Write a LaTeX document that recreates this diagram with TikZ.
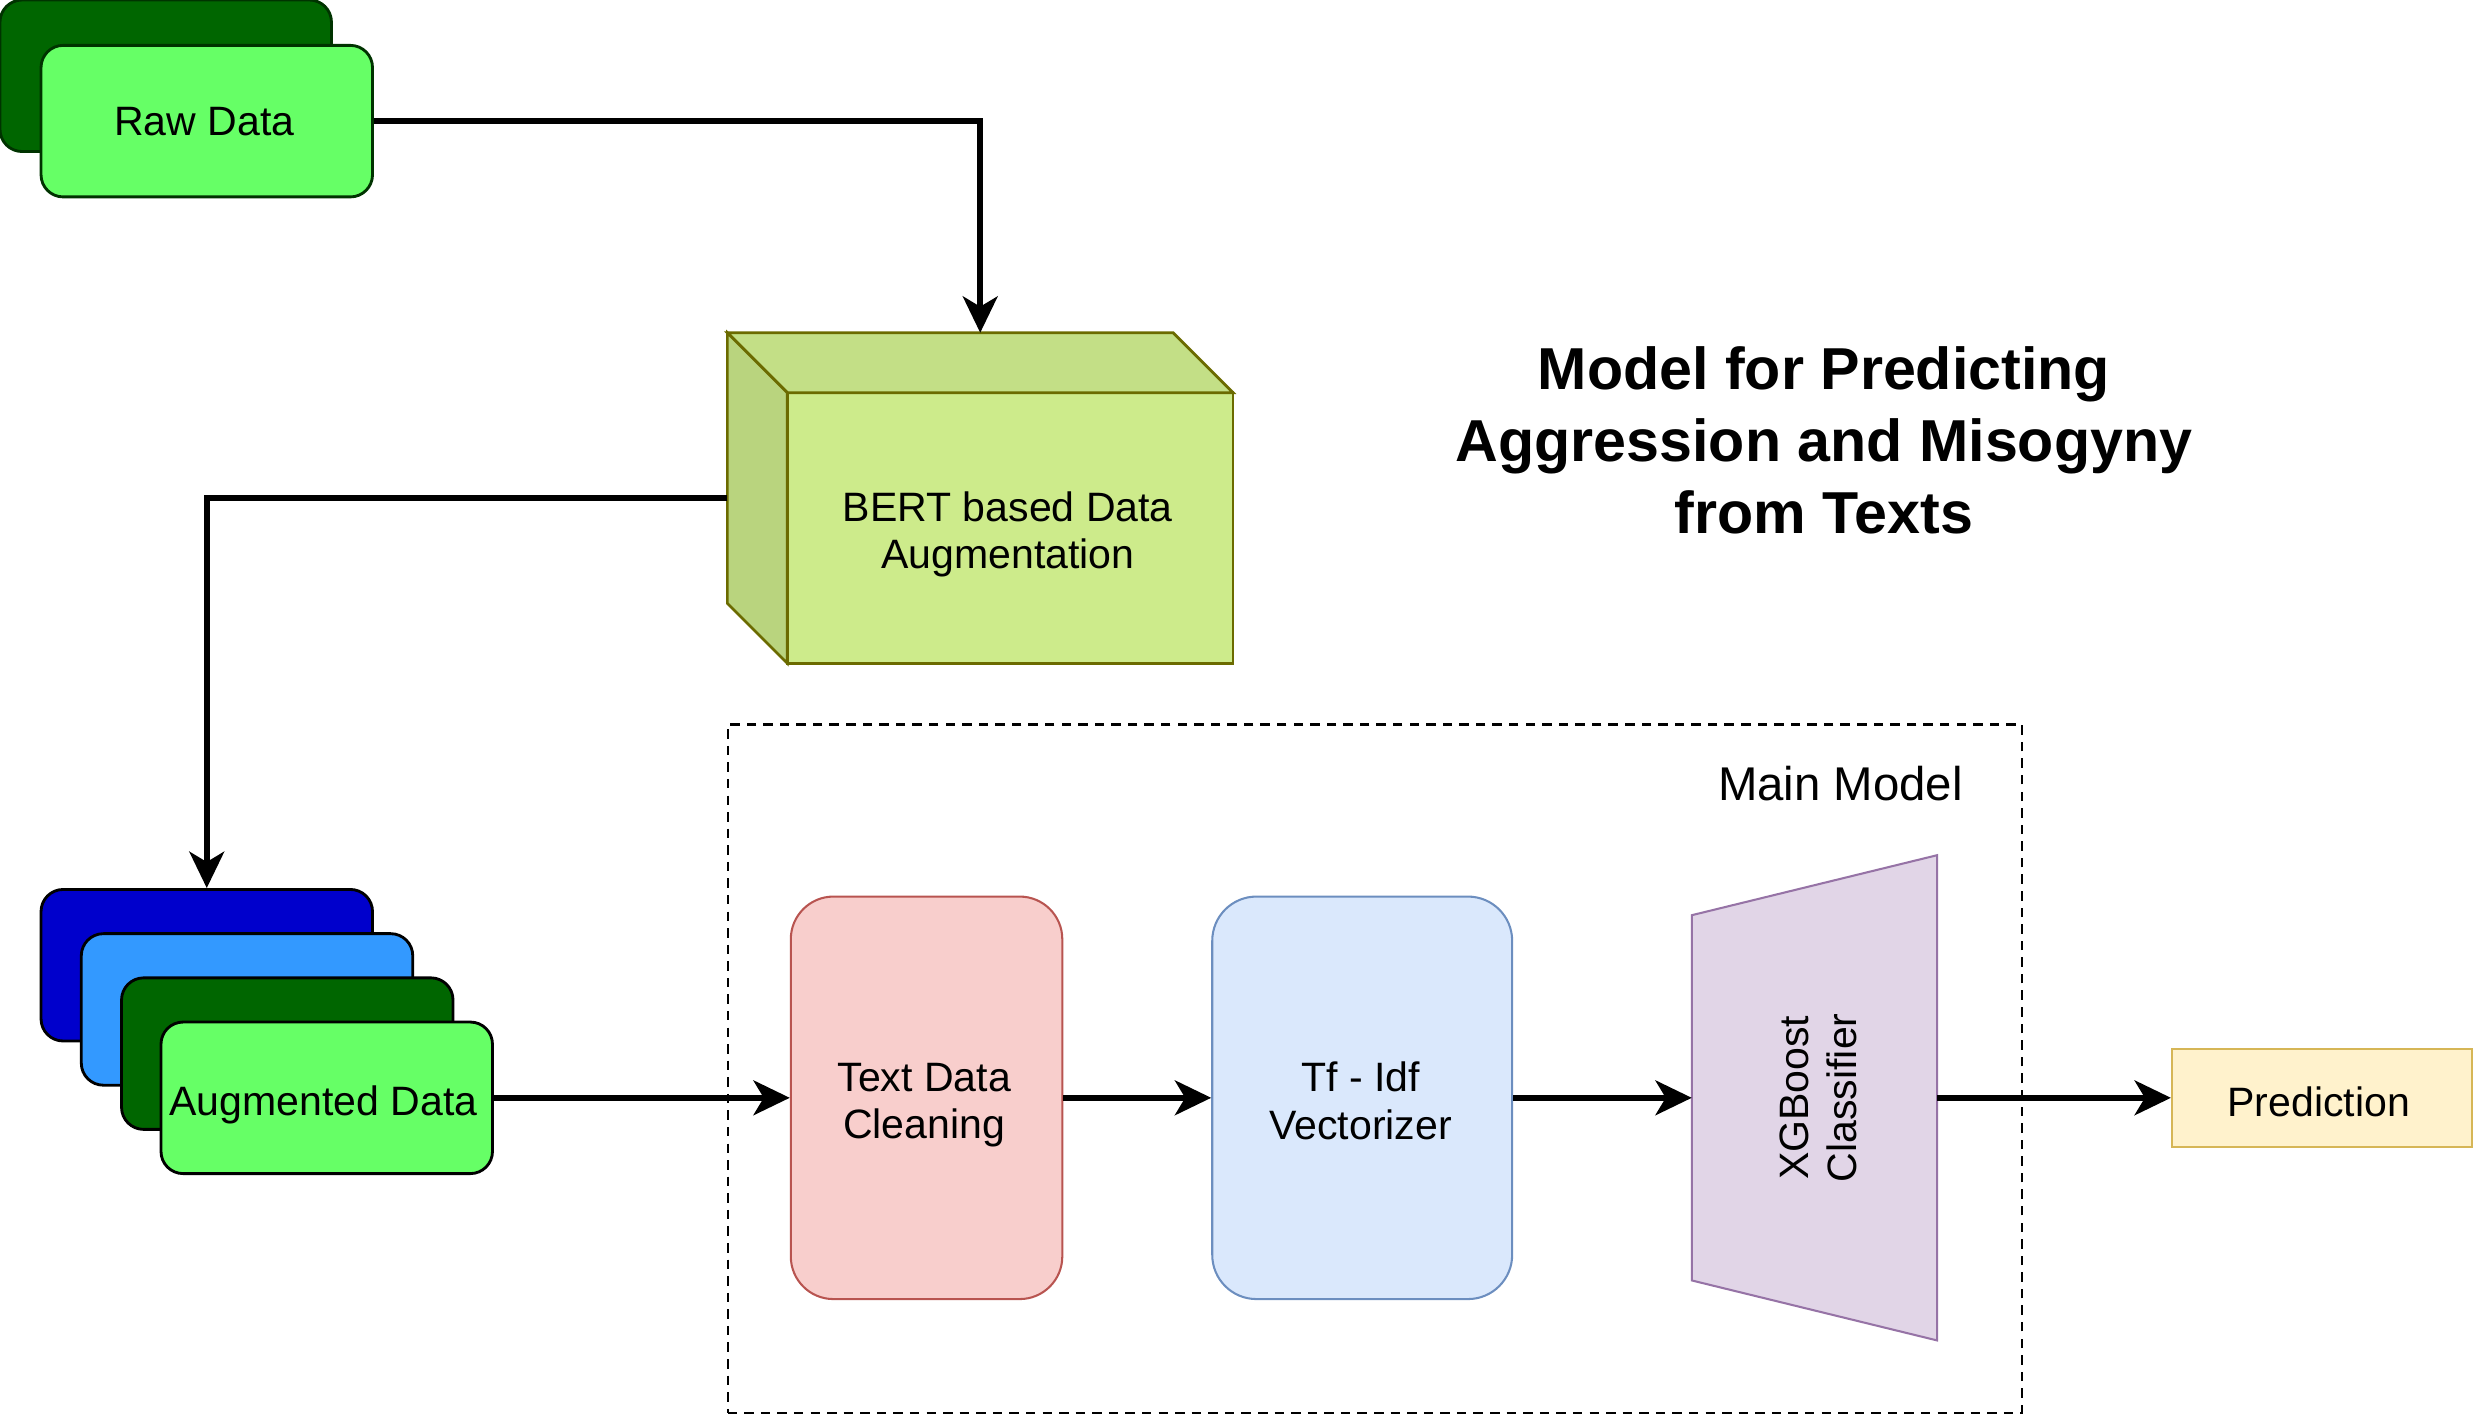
\documentclass[tikz,border=0pt]{standalone}
\usepackage{fontspec}
\setmainfont{Liberation Sans}
\usetikzlibrary{arrows.meta}
\definecolor{rawdark}{HTML}{006600}
\definecolor{rawlight}{HTML}{66FF66}
\definecolor{rawstroke}{HTML}{003300}
\definecolor{augblue}{HTML}{0000CC}
\definecolor{auglblue}{HTML}{3399FF}
\definecolor{cubefront}{HTML}{CDEB8B}
\definecolor{cubetop}{HTML}{C3DF86}
\definecolor{cubeleft}{HTML}{B9D47E}
\definecolor{cubestroke}{HTML}{6B6B00}
\definecolor{cleanfill}{HTML}{F8CECC}
\definecolor{cleanstroke}{HTML}{B85450}
\definecolor{tffill}{HTML}{DAE8FC}
\definecolor{tfstroke}{HTML}{6C8EBF}
\definecolor{xgbfill}{HTML}{E1D5E7}
\definecolor{xgbstroke}{HTML}{9673A6}
\definecolor{predfill}{HTML}{FFF2CC}
\definecolor{predstroke}{HTML}{D6B656}
\begin{document}
\begin{tikzpicture}[x=1pt,y=-1pt,
  databox/.style={rectangle, inner sep=0pt, minimum width=210pt, minimum height=96pt, rounded corners=14pt, line width=1.8pt},
  procbox/.style={rectangle, inner sep=0pt, minimum height=255pt, rounded corners=27pt, line width=1.3pt},
  txt/.style={font=\fontsize{26}{30}\selectfont, align=center, inner sep=0pt},
  arr/.style={line width=3.6pt, -{Stealth[length=23pt,width=22pt,inset=6.5pt]}},
  cubeface/.style={draw=cubestroke, line width=1.7pt, line join=miter}
]
\useasboundingbox (0,0) rectangle (1568,897);

% main model frame
\node[draw, line width=1.4pt, dash pattern=on 6pt off 4.5pt, inner sep=0pt,
      minimum width=820pt, minimum height=436pt] (main) at (871,677) {};
\node[font=\fontsize{30}{36}\selectfont, inner sep=0pt] (main-t) at (1166,496.3) {Main Model};

% title
\node[font=\fontsize{37.5}{45.5}\selectfont\bfseries, align=center, inner sep=0pt] (title)
  at (1155.5,279.05) {Model for Predicting\\Aggression and Misogyny\\from Texts};

% raw data stack
\node[databox, draw=rawstroke, fill=rawdark] (raw0) at (105,48) {};
\node[databox, draw=rawstroke, fill=rawlight] (raw) at (131,76.75) {};
\node[txt] (raw-t) at (129.5,77.3) {Raw Data};

% BERT cube
\node[rectangle, inner sep=0pt, minimum width=320pt, minimum height=209pt] (bert) at (621,315.5) {};
\path[cubeface, fill=cubefront] ([xshift=38pt,yshift=-38pt]bert.north west) rectangle (bert.south east);
\path[cubeface, fill=cubetop] (bert.north west) -- ([xshift=-38pt]bert.north east)
  -- ([yshift=-38pt]bert.north east) -- ([xshift=38pt,yshift=-38pt]bert.north west) -- cycle;
\path[cubeface, fill=cubeleft] (bert.north west) -- ([xshift=38pt,yshift=-38pt]bert.north west)
  -- ([xshift=38pt]bert.south west) -- ([yshift=38pt]bert.south west) -- cycle;
\node[txt] (bert-t) at (638.5,338.45) {BERT based Data\\Augmentation};

% augmented data stack
\node[databox, draw=black, fill=augblue] (aug1) at (131,611.5) {};
\node[databox, draw=black, fill=auglblue] (aug2) at (156.5,639.5) {};
\node[databox, draw=black, fill=rawdark] (aug3) at (182,667.5) {};
\node[databox, draw=black, fill=rawlight] (aug) at (207,695.5) {};
\node[txt] (aug-t) at (205,700) {Augmented Data};

% processing boxes
\node[procbox, draw=cleanstroke, fill=cleanfill, minimum width=172pt] (clean) at (587,695.5) {};
\node[txt] (clean-t) at (585.5,700.25) {Text Data\\Cleaning};
\node[procbox, draw=tfstroke, fill=tffill, minimum width=190pt, rounded corners=28pt] (tf) at (863,695.5) {};
\node[txt] (tf-t) at (862,697.5) {Tf - Idf\\Vectorizer};

% XGBoost trapezoid
\node[rectangle, inner sep=0pt, minimum width=155pt, minimum height=307pt] (xgb) at (1149.5,695.5) {};
\path[draw=xgbstroke, fill=xgbfill, line width=1.3pt, line join=miter]
  ([yshift=-38pt]xgb.north west) -- (xgb.north east) -- (xgb.south east)
  -- ([yshift=38pt]xgb.south west) -- cycle;
\node[txt, rotate=90] (xgb-t) at (1152,695.5) {XGBoost\\Classifier};

% prediction
\node[rectangle, inner sep=0pt, draw=predstroke, fill=predfill, line width=1.3pt,
      minimum width=190pt, minimum height=62pt] (pred) at (1471,695.5) {};
\node[txt] (pred-t) at (1469,697.8) {Prediction};

% connectors
\draw[arr] (raw.east) -| (bert.north);
\draw[arr] (bert.west) -| (aug1.north);
\draw[arr] (aug.east) -- (clean.west);
\draw[arr] (clean.east) -- (tf.west);
\draw[arr] (tf.east) -- (xgb.west);
\draw[arr] (xgb.east) -- (pred.west);
\end{tikzpicture}
\end{document}
